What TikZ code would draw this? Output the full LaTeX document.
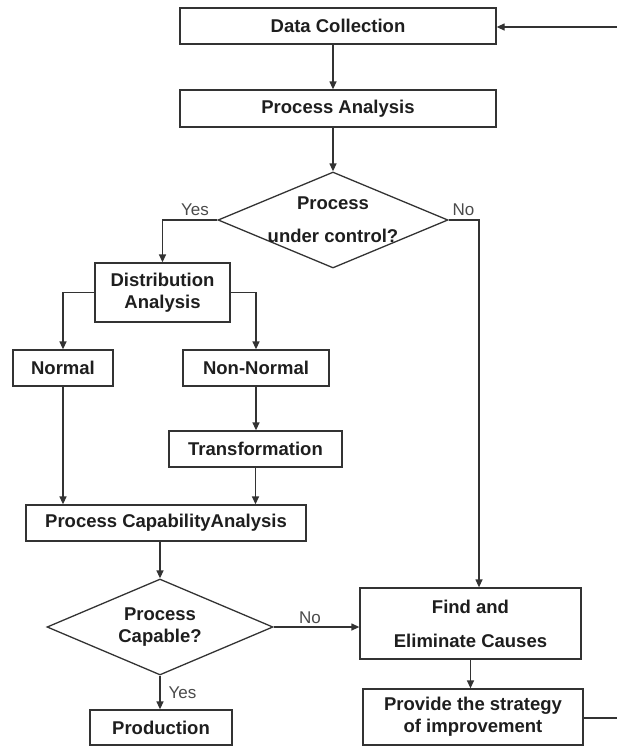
\documentclass[tikz,border=0pt]{standalone}
\usepackage{fontspec}
\setmainfont{Liberation Sans}
\usetikzlibrary{positioning, arrows.meta, shapes.geometric}
\definecolor{FlowLine}{HTML}{333333}
\definecolor{FlowText}{HTML}{1E1E1E}
\definecolor{FlowLabel}{HTML}{4A4A4A}

\begin{document}
\begin{tikzpicture}[
        x=1pt, y=1pt,
        node distance=20pt,
        stepbox/.style={
            rectangle, draw=FlowLine, line width=1.3pt, inner sep=0pt,
            minimum height=36pt, align=center, text=FlowText,
            font=\fontsize{18.5}{22}\selectfont\bfseries
        },
        decision/.style={
            diamond, draw=FlowLine, line width=1.3pt, inner sep=0pt
        },
        qtext/.style={align=center, text=FlowText, font=\fontsize{18.5}{22}\selectfont\bfseries},
        answer/.style={text=FlowLabel, font=\fontsize{17}{20}\selectfont, inner sep=0pt},
        arrow/.style={line width=1.3pt, draw=FlowLine, -{Triangle[length=8pt, width=7pt]}}
    ]

    \useasboundingbox (0,0) rectangle (616,-747);

    % Main column
    \node (datacoll) [stepbox, minimum width=316pt] at (338,-26) {Data Collection};
    \node (procana) [stepbox, minimum width=316pt, minimum height=37pt] at (338,-108.5) {Process Analysis};

    \node (ctrl) [decision, minimum width=230pt, minimum height=96pt] at (333,-220) {};
    \node (ctrltxt) [qtext] at (ctrl.center) {Process\\[11pt]under control?};

    % Left branch
    \node (distr) [stepbox, minimum width=135pt, minimum height=59pt] at (162.5,-292.5) {Distribution\\Analysis};
    \node (normal) [stepbox, minimum width=100pt] at (63,-368) {Normal};
    \node (nonnormal) [stepbox, minimum width=146pt] at (256,-368) {Non-Normal};
    \node (transf) [stepbox, minimum width=173pt] at (255.5,-449) {Transformation};
    \node (pca) [stepbox, minimum width=280pt] at (166,-523) {Process CapabilityAnalysis};

    \node (capable) [decision, minimum width=226pt, minimum height=96pt] at (160,-627) {};
    \node (captxt) [qtext] at (capable.center) {Process\\Capable?};

    \node (prod) [stepbox, minimum width=142pt, minimum height=35pt] at (161,-727.5) {Production};

    % Right branch
    \node (find) [stepbox, minimum width=221pt, minimum height=71pt] at (470.5,-623.5) {Find and\\[12pt]Eliminate Causes};
    \node (improve) [stepbox, minimum width=220pt, minimum height=56pt] at (473,-717) {Provide the strategy\\of improvement};

    % Answer labels
    \node (yes1) [answer] at (195,-209.5) {Yes};
    \node (no1) [answer] at (463.5,-210) {No};
    \node (no2) [answer] at (310,-617.5) {No};
    \node (yes2) [answer] at (182.5,-692.5) {Yes};

    % Arrows
    \draw [arrow] (ctrl.north |- datacoll.south) -- (ctrl.north |- procana.north);
    \draw [arrow] (ctrl.north |- procana.south) -- (ctrl.north);
    \draw [arrow] (ctrl.west) -| (distr.north);
    \draw [arrow] (ctrl.east) -| ([xshift=8.5pt]find.north);
    \draw [arrow] (distr.west) -| (normal.north);
    \draw [arrow] (distr.east) -| (nonnormal.north);
    \draw [arrow] (nonnormal.south) -- (nonnormal.south |- transf.north);
    \draw [arrow] (transf.south) -- (transf.south |- pca.north);
    \draw [arrow] (normal.south) -- (normal.south |- pca.north);
    \draw [arrow] (capable.north |- pca.south) -- (capable.north);
    \draw [arrow] (capable.south) -- (capable.south |- prod.north);
    \draw [arrow] (capable.east) -- (capable.east -| find.west);
    \draw [arrow] (find.south) -- (find.south |- improve.north);

    % Feedback loop, runs past the right edge
    \coordinate (loopbot) at (630,-718);
    \coordinate (looptop) at (630,-27);
    \draw [arrow] (improve.east |- loopbot) -- (loopbot) -- (looptop) -- (datacoll.east |- looptop);

\end{tikzpicture}
\end{document}
